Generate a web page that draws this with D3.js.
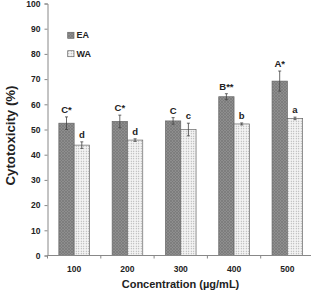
<!DOCTYPE html>
<html><head><meta charset="utf-8">
<script src="https://cdn.jsdelivr.net/npm/d3@7"></script>
<style>body{margin:0;background:#fff}svg{display:block}text{font-family:"Liberation Sans",Arial,sans-serif;font-weight:bold;fill:#222}</style>
</head><body><div id="c"></div>
<script>
const categories = ["100","200","300","400","500"];
const seriesNames = ["EA","WA"];
const eaValues = [52.5, 53.2, 53.4, 63.0, 69.2];
const eaErrors = [2.5, 2.5, 1.3, 1.2, 4.0];
const waValues = [43.8, 45.8, 50.0, 52.2, 54.4];
const waErrors = [1.3, 0.5, 2.5, 0.4, 0.5];
const eaLabels = ["C*","C*","C","B**","A*"];
const waLabels = ["d","d","c","b","a"];
const yTicks = [0,10,20,30,40,50,60,70,80,90,100];

const W=311,H=294;
const m={l:47.5,t:3.5,r:-3,b:38.5};
const svg=d3.select("#c").append("svg").attr("width",W).attr("height",H);
const defs=svg.append("defs");
const p1=defs.append("pattern").attr("id","pEA").attr("patternUnits","userSpaceOnUse").attr("width",3).attr("height",3);
p1.append("rect").attr("width",3).attr("height",3).attr("fill","#8e8e8e");
p1.append("path").attr("d","M0,3L3,0M0,0L3,3").attr("stroke","#777").attr("stroke-width",0.7);
const p2=defs.append("pattern").attr("id","pWA").attr("patternUnits","userSpaceOnUse").attr("width",2.5).attr("height",2.5);
p2.append("rect").attr("width",2.5).attr("height",2.5).attr("fill","#f4f4f4");
p2.append("circle").attr("cx",1.25).attr("cy",1.25).attr("r",0.55).attr("fill","#9a9a9a");

const x=d3.scaleBand().domain(categories).range([m.l,W-m.r]).paddingInner(0).paddingOuter(0);
const y=d3.scaleLinear().domain([0,100]).range([H-m.b,m.t]);
const bw=15.3;
const xs=d3.scaleBand().domain(seriesNames).range([0,2*bw]);

// y axis
const ya=svg.append("g").attr("transform",`translate(${m.l},0)`).call(d3.axisLeft(y).tickValues(yTicks).tickSize(3).tickPadding(4));
ya.select(".domain").attr("stroke","#888");
ya.selectAll(".tick line").attr("stroke","#888");
ya.selectAll(".tick text").attr("font-size","8.5px").attr("font-family","Liberation Sans, Arial, sans-serif").attr("font-weight","bold").attr("fill","#222");

// bars
const series=[{name:"EA",v:eaValues,e:eaErrors,l:eaLabels,fill:"url(#pEA)"},{name:"WA",v:waValues,e:waErrors,l:waLabels,fill:"url(#pWA)"}];
series.forEach(s=>{
  const g=svg.append("g");
  categories.forEach((c,i)=>{
    const cx=x(c)+x.bandwidth()/2-bw;
    const bx=cx+xs(s.name);
    g.append("rect").attr("x",bx).attr("y",y(s.v[i])).attr("width",bw).attr("height",y(0)-y(s.v[i]))
      .attr("fill",s.fill).attr("stroke","#666").attr("stroke-width",0.7);
    const mx=bx+bw/2;
    g.append("line").attr("x1",mx).attr("x2",mx).attr("y1",y(s.v[i]+s.e[i])).attr("y2",y(s.v[i]-s.e[i])).attr("stroke","#444").attr("stroke-width",0.8);
    [s.v[i]+s.e[i],s.v[i]-s.e[i]].forEach(v=>g.append("line").attr("x1",mx-1.5).attr("x2",mx+1.5).attr("y1",y(v)).attr("y2",y(v)).attr("stroke","#444").attr("stroke-width",0.8));
    g.append("text").attr("x",mx).attr("y",y(s.v[i]+s.e[i])-4).attr("text-anchor","middle").attr("font-size","9.5px").text(s.l[i]);
  });
});

// x axis
const xa=svg.append("g").attr("transform",`translate(0,${y(0)})`);
xa.append("line").attr("x1",m.l).attr("x2",W+5).attr("stroke","#888");
const bounds=[...categories.map(c=>x(c)),x(categories[categories.length-1])+x.bandwidth()];
bounds.forEach(b=>xa.append("line").attr("x1",b).attr("x2",b).attr("y1",0).attr("y2",3).attr("stroke","#888"));
categories.forEach(c=>xa.append("text").attr("x",x(c)+x.bandwidth()/2).attr("y",16).attr("text-anchor","middle").attr("font-size","8.5px").text(c));

// titles
svg.append("text").attr("x",180.5).attr("y",288).attr("text-anchor","middle").attr("font-size","11px").text("Concentration (µg/mL)");
svg.append("text").attr("transform",`translate(15,135.5) rotate(-90)`).attr("text-anchor","middle").attr("font-size","12px").attr("textLength",100).attr("lengthAdjust","spacingAndGlyphs").text("Cytotoxicity (%)");

// legend
series.forEach((s,i)=>{
  const ly=32.3+i*18.4;
  svg.append("rect").attr("x",67.7).attr("y",ly).attr("width",6.3).attr("height",6).attr("fill",s.fill).attr("stroke","#666").attr("stroke-width",0.7);
  svg.append("text").attr("x",76.5).attr("y",ly+6).attr("font-size","9px").text(s.name);
});
</script></body></html>
